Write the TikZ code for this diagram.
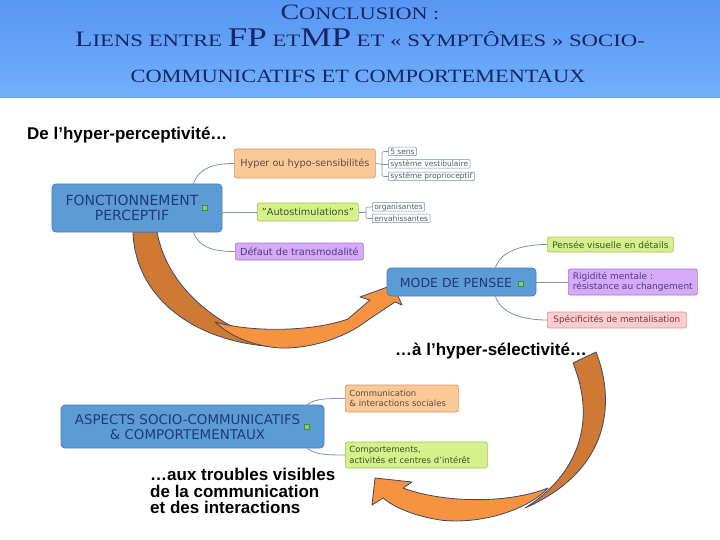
\documentclass[tikz,border=0pt]{standalone}
\usepackage{fontspec}
\setmainfont{DejaVu Sans}
\newfontfamily\titlef{Liberation Serif}
\newfontfamily\arialf{Liberation Sans}
\usetikzlibrary{calc}
\definecolor{hdrtop}{RGB}{88,150,243}
\definecolor{hdrbot}{RGB}{112,176,252}
\definecolor{titletext}{RGB}{22,38,100}
\definecolor{mainfill}{RGB}{93,155,215}
\definecolor{mainbd}{RGB}{70,125,185}
\definecolor{maintext}{RGB}{28,60,120}
\definecolor{orfill}{RGB}{251,200,152}
\definecolor{orbd}{RGB}{215,150,95}
\definecolor{ortext}{RGB}{95,75,60}
\definecolor{grfill}{RGB}{214,240,140}
\definecolor{grbd}{RGB}{160,195,90}
\definecolor{grtext}{RGB}{60,85,35}
\definecolor{pufill}{RGB}{214,170,248}
\definecolor{pubd}{RGB}{160,120,210}
\definecolor{putext}{RGB}{75,60,130}
\definecolor{pkfill}{RGB}{251,205,205}
\definecolor{pkbd}{RGB}{215,150,150}
\definecolor{pktext}{RGB}{110,60,60}
\definecolor{smbd}{RGB}{120,140,170}
\definecolor{smtext}{RGB}{80,90,110}
\definecolor{conncol}{RGB}{125,145,170}
\definecolor{ordark}{RGB}{207,122,52}
\definecolor{orlight}{RGB}{247,146,62}
\definecolor{arrowbd}{RGB}{60,72,105}
\definecolor{icfill}{RGB}{130,205,130}
\definecolor{icbd}{RGB}{60,140,60}
\newcommand{\tbig}[1]{{\fontsize{22}{22}\selectfont #1}}
\newcommand{\tsml}[1]{{\fontsize{17.5}{17.5}\selectfont #1}}
\newcommand{\thug}[1]{{\fontsize{27}{27}\selectfont #1}}
\tikzset{
  titlenode/.style={font=\titlef, text=titletext, inner sep=0pt},
  boldtxt/.style={font=\arialf\bfseries\fontsize{17}{17}\selectfont, inner sep=0pt, anchor=base west},
  mainbox/.style={draw=mainbd, fill=mainfill, rounded corners=4pt, line width=0.8pt},
  maintxt/.style={text=maintext, font=\fontsize{13}{15}\selectfont, align=center, inner sep=0pt},
  leaf/.style={rounded corners=2pt, line width=0.7pt, inner xsep=4pt, inner ysep=0pt, align=left, anchor=west},
  orleaf/.style={leaf, draw=orbd, fill=orfill, text=ortext},
  grleaf/.style={leaf, draw=grbd, fill=grfill, text=grtext},
  puleaf/.style={leaf, draw=pubd, fill=pufill, text=putext},
  pkleaf/.style={leaf, draw=pkbd, fill=pkfill, text=pktext},
  smallbox/.style={draw=smbd, fill=white, rounded corners=1pt, line width=0.5pt, font=\fontsize{7.5}{7.5}\selectfont, text=smtext, inner xsep=2pt, inner ysep=0pt, minimum height=8.5pt, anchor=west},
  conn/.style={draw=conncol, line width=0.8pt},
  icon/.style={draw=icbd, fill=icfill, minimum size=5pt, inner sep=0pt, line width=0.5pt},
  arrowpart/.style={draw=arrowbd, line width=0.8pt, line join=round}
}
\begin{document}
\begin{tikzpicture}[x=1pt,y=-1pt]
\useasboundingbox (0,0) rectangle (720,540);
\fill[white] (0,0) rectangle (720,540);
\shade[top color=hdrtop, bottom color=hdrbot] (0,0) rectangle (720,98);

% title
\node[titlenode, anchor=base] (t1) at (360,20) {\scalebox{1.27}[1]{\tbig{C}\tsml{ONCLUSION :}}};
\node[titlenode, anchor=base] (t2) at (360,47) {\scalebox{1.3}[1]{\tbig{L}\tsml{IENS ENTRE }\thug{FP}\tsml{ ET}\thug{MP}\tsml{ ET « SYMPTÔMES » SOCIO-}}};
\node[titlenode, anchor=base] (t3) at (358,83) {\scalebox{1.28}[1.07]{\tsml{COMMUNICATIFS ET COMPORTEMENTAUX}}};

% headings
\node[boldtxt] (hp) at (27,140) {De l’hyper-perceptivité…};
\node[boldtxt] (hs) at (395,355) {…à l’hyper-sélectivité…};
\node[boldtxt] (tr1) at (150,480) {…aux troubles visibles};
\node[boldtxt] (tr2) at (150,497) {de la communication};
\node[boldtxt] (tr3) at (150,513) {et des interactions};

% arrow 1
\path[arrowpart, fill=ordark] (133,232) .. controls (135,300) and (200,348) .. (290,347)
   .. controls (238,338) and (170,300) .. (157,232) -- cycle;
\path[arrowpart, fill=orlight] (215,322) .. controls (258,334) and (318,330) .. (348,319)
   -- (370,300) -- (360,297) -- (393,285) -- (402,305) -- (395,302) -- (368,320)
   .. controls (345,338) and (310,349) .. (280,348) .. controls (252,346) and (230,336) .. (215,322) -- cycle;

% arrow 2
\path[arrowpart, fill=ordark] (573,363) -- (596,352) .. controls (615,400) and (612,470) .. (525,508)
   .. controls (570,480) and (600,430) .. (573,363) -- cycle;
\path[arrowpart, fill=orlight] (548,488) .. controls (528,510) and (480,525) .. (440,520)
   .. controls (415,516) and (395,508) .. (383,498) -- (372,505) -- (375,478) -- (412,482) -- (403,488)
   .. controls (440,502) and (505,505) .. (548,488) -- cycle;

% ---------- Fonctionnement perceptif
\node[mainbox, minimum width=170pt, minimum height=48pt] (fp) at (137,208) {};
\node[maintxt, font=\fontsize{14}{15.5}\selectfont] (fpt) at (132,208) {FONCTIONNEMENT\\PERCEPTIF};
\node[icon] (fpic) at (205,208) {};

\node[orleaf, font=\fontsize{9.7}{11}\selectfont, minimum height=29pt, minimum width=141pt] (hyper) at (234,163.5) {Hyper ou hypo-sensibilités};
\node[grleaf, font=\fontsize{9.7}{11}\selectfont, minimum height=18pt, minimum width=101pt] (auto) at (257,212) {"Autostimulations"};
\node[puleaf, font=\fontsize{9.7}{11}\selectfont, minimum height=17pt, minimum width=128pt] (defaut) at (235,251.5) {Défaut de transmodalité};

\node[smallbox] (s1) at (388,151.5) {5 sens};
\node[smallbox] (s2) at (388,164) {système vestibulaire};
\node[smallbox] (s3) at (388,176.5) {système proprioceptif};
\node[smallbox] (o1) at (372,207) {organisantes};
\node[smallbox] (o2) at (372,218.5) {envahissantes};

\draw[conn] ($(fp.north east)+(-29,0)$) .. controls +(6,-16) and +(-20,0) .. (hyper.west);
\draw[conn] (fp.east |- auto.west) -- (auto.west);
\draw[conn] ($(fp.south east)+(-29,0)$) .. controls +(6,16) and +(-20,0) .. (defaut.west);

\coordinate (hb) at (382,164);
\draw[conn, line width=0.6pt] (hyper.east) -- (hb);
\draw[conn, line width=0.6pt, rounded corners=2pt] (hb) |- (s1.west);
\draw[conn, line width=0.6pt] (hb) -- (s2.west);
\draw[conn, line width=0.6pt, rounded corners=2pt] (hb) |- (s3.west);
\coordinate (ab) at (366,212);
\draw[conn, line width=0.6pt] (auto.east) -- (ab);
\draw[conn, line width=0.6pt, rounded corners=2pt] (ab) |- (o1.west);
\draw[conn, line width=0.6pt, rounded corners=2pt] (ab) |- (o2.west);

% ---------- Mode de pensee
\node[mainbox, minimum width=149pt, minimum height=28pt] (mode) at (461.5,282) {};
\node[maintxt, font=\fontsize{12.5}{15}\selectfont] (modet) at (456,283) {MODE DE PENSEE};
\node[icon] (modeic) at (521,284) {};

\node[grleaf, font=\fontsize{9}{10.5}\selectfont, minimum height=15pt, minimum width=126pt] (pv) at (547,244.5) {Pensée visuelle en détails};
\node[puleaf, font=\fontsize{9}{10.5}\selectfont, minimum height=26pt, minimum width=129pt] (rig) at (568,282) {Rigidité mentale :\\résistance au changement};
\node[pkleaf, font=\fontsize{8.8}{10.5}\selectfont, minimum height=16pt, minimum width=139pt] (spec) at (547,320) {Spécificités de mentalisation};

\draw[conn] ($(mode.north east)+(-41,0)$) .. controls +(6,-18) and +(-22,0) .. (pv.west);
\draw[conn] (mode.east) -- (rig.west);
\draw[conn] ($(mode.south east)+(-41,0)$) .. controls +(6,18) and +(-22,0) .. (spec.west);

% ---------- Aspects socio-communicatifs
\node[mainbox, minimum width=263pt, minimum height=43pt] (asp) at (192.5,426.5) {};
\node[maintxt, font=\fontsize{13.4}{15}\selectfont] (aspt) at (187.5,427) {ASPECTS SOCIO-COMMUNICATIFS\\\& COMPORTEMENTAUX};
\node[icon] (aspic) at (307,427) {};

\node[orleaf, font=\fontsize{8.5}{10.5}\selectfont, minimum height=27pt, text width=105pt] (comm) at (345,398.5) {Communication\\\& interactions sociales};
\node[grleaf, font=\fontsize{8.5}{10.5}\selectfont, minimum height=26pt, text width=134pt] (comp) at (345,455) {Comportements,\\activités et centres d'intérêt};

\draw[conn] ($(asp.north east)+(-17,0)$) .. controls +(8,-6) and +(-20,0) .. (comm.west);
\draw[conn] ($(asp.south east)+(-17,0)$) .. controls +(8,6) and +(-20,0) .. (comp.west);
\end{tikzpicture}
\end{document}
